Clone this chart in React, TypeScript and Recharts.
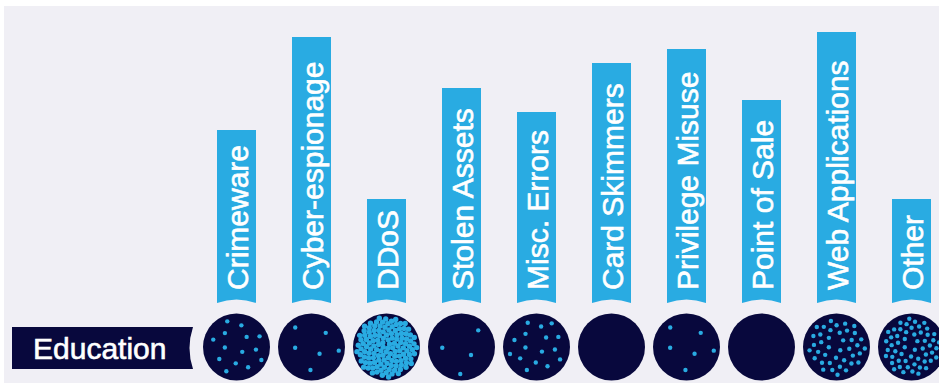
import React from 'react';
import { ComposedChart, Bar, XAxis, YAxis } from 'recharts';

// incident patterns for the Education industry
const categories = [
  'Crimeware',
  'Cyber-espionage',
  'DDoS',
  'Stolen Assets',
  'Misc. Errors',
  'Card Skimmers',
  'Privilege Misuse',
  'Point of Sale',
  'Web Applications',
  'Other',
];
const tabHeights = [173, 266, 104, 215, 191, 240, 254, 203, 271, 104];
const incidentDots = [14, 6, 130, 4, 16, 0, 6, 0, 40, 55];

const chartData = categories.map((name, i) => ({
  name,
  tab: tabHeights[i],
  dots: incidentDots[i],
}));

const BLUE = '#29abe2';
const NAVY = '#08083d';
const FONT = '"Liberation Sans", Arial, sans-serif';

const TabShape = (props: any) => {
  const { x, y, width, height, payload } = props;
  const bottom = y + height;
  const cx = x + width / 2;
  const cy = bottom + 44;
  const R = 33.5;
  const n = payload.dots;
  const dense = n > 100;
  const dotR = dense ? 2.7 : 2.2;
  const inner = dense ? R - 3 : R - 5;
  const golden = Math.PI * (3 - Math.sqrt(5));
  const dots = [];
  for (let i = 0; i < n; i++) {
    // spread the dots through the disc, a little more towards the rim
    const rr = inner * Math.pow((i + 0.5) / n, dense ? 0.5 : 0.4);
    const a = i * golden + 0.7;
    dots.push(
      <circle key={i} cx={cx + rr * Math.cos(a)} cy={cy + rr * Math.sin(a)} r={dotR} fill={BLUE} />
    );
  }
  const tx = x + 31;
  const ty = bottom - 13;
  return (
    <g>
      <path
        d={`M${x},${y} H${x + width} V${bottom} Q${cx},${bottom - 7} ${x},${bottom} Z`}
        fill={BLUE}
      />
      <text
        x={tx}
        y={ty}
        transform={`rotate(-90 ${tx} ${ty})`}
        fill="#fff"
        stroke="#fff"
        strokeWidth={0.6}
        fontSize={30}
        fontFamily={FONT}
      >
        {payload.name}
      </text>
      <circle cx={cx} cy={cy} r={R} fill={NAVY} />
      {dots}
    </g>
  );
};

const App: React.FC = () => {
  return (
    <div
      style={{
        position: 'absolute',
        left: 4,
        top: 6,
        width: 935,
        height: 377,
        background: '#f0eff5',
        overflow: 'hidden',
      }}
    >
      <svg
        width={200}
        height={60}
        style={{ position: 'absolute', left: 0, top: 315 }}
      >
        <path d="M8,6 H189 Q182,27 189,48 H8 Z" fill={NAVY} />
        <text
          x={29}
          y={38}
          fill="#fff"
          stroke="#fff"
          strokeWidth={0.6}
          fontSize={30}
          fontFamily={FONT}
        >
          Education
        </text>
      </svg>
      <div style={{ position: 'absolute', left: 0, top: 0 }}>
        <ComposedChart
          width={945}
          height={377}
          data={chartData}
          margin={{ top: 17, right: 0, bottom: 80, left: 195 }}
        >
          <XAxis dataKey="name" hide />
          <YAxis hide domain={[0, 280]} />
          <Bar
            dataKey="tab"
            barSize={39}
            shape={(p: any) => <TabShape {...p} />}
            isAnimationActive={false}
          />
        </ComposedChart>
      </div>
    </div>
  );
};

export default App;
